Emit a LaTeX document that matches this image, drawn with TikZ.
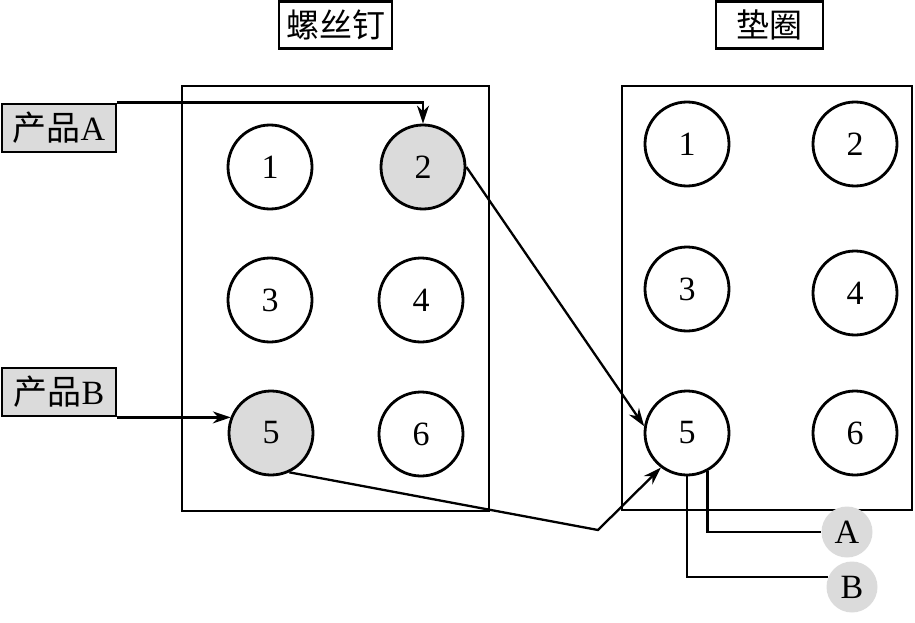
\documentclass[tikz,border=0pt]{standalone}
\usepackage{fontspec}
\setmainfont{Liberation Serif}
\newfontfamily\cjk{Noto Sans CJK SC}
\usetikzlibrary{arrows.meta,positioning}

\begin{document}
\begin{tikzpicture}[x=1pt,y=-1pt,
  hole/.style={circle,draw,line width=2.8pt,minimum size=84pt,inner sep=0pt,font=\fontsize{34}{34}\selectfont},
  used/.style={hole,fill=black!14},
  title/.style={draw,line width=2.8pt,minimum height=47pt,font=\cjk\fontsize{33}{33}\selectfont},
  plate/.style={draw,line width=2.8pt,inner sep=0pt},
  prod/.style={draw,line width=2.8pt,fill=black!14,minimum width=114pt,minimum height=48pt,inner sep=0pt,font=\fontsize{34}{34}\selectfont},
  tag/.style={circle,fill=black!14,minimum size=51pt,inner sep=0pt,font=\fontsize{34}{34}\selectfont},
  flow/.style={-{Stealth[length=18pt,width=12pt]},line width=2.3pt},
  wire/.style={line width=2.3pt}
]
\useasboundingbox (0,0) rectangle (915,623);
% titles
\node[title,minimum width=113pt] (screwtitle) at (335.5,25) {螺丝钉};
\node[title,minimum width=107pt] (washertitle) at (769.5,25) {垫圈};
% plates
\node[plate,minimum width=307pt,minimum height=425pt] (screws) at (335.5,298.5) {};
\node[plate,minimum width=290pt,minimum height=424pt] (washers) at (767,298) {};
% screw holes
\node[hole] (s1) at (270,167) {1};
\node[used] (s2) at (423,167) {2};
\node[hole] (s3) at (270,300) {3};
\node[hole] (s4) at (421,300) {4};
\node[used] (s5) at (271,433) {5};
\node[hole] (s6) at (421,434) {6};
% washer holes
\node[hole] (w1) at (687,144) {1};
\node[hole] (w2) at (855,144) {2};
\node[hole] (w3) at (687,289) {3};
\node[hole] (w4) at (855,293) {4};
\node[hole] (w5) at (687,433) {5};
\node[hole] (w6) at (855,433) {6};
% products
\node[prod] (pa) at (59,128) {{\cjk 产品}A};
\node[prod] (pb) at (59,392) {{\cjk 产品}B};
\node[tag] (ta) at (847,532) {A};
\node[tag] (tb) at (852,587) {B};
\coordinate (bend) at (598,530);
% connections
\draw[flow] (pa.north east) -| (s2.north);
\draw[flow] (pb.south east) -- (pb.south east -| s5.158);
\draw[flow] (s2.east) -- (w5.171);
\draw[flow] (s5.-65) -- (bend) -- (w5.233);
\draw[wire] (w5.-62) |- (ta.west);
\draw[wire] (w5.south) |- (tb.157);
\end{tikzpicture}
\end{document}
